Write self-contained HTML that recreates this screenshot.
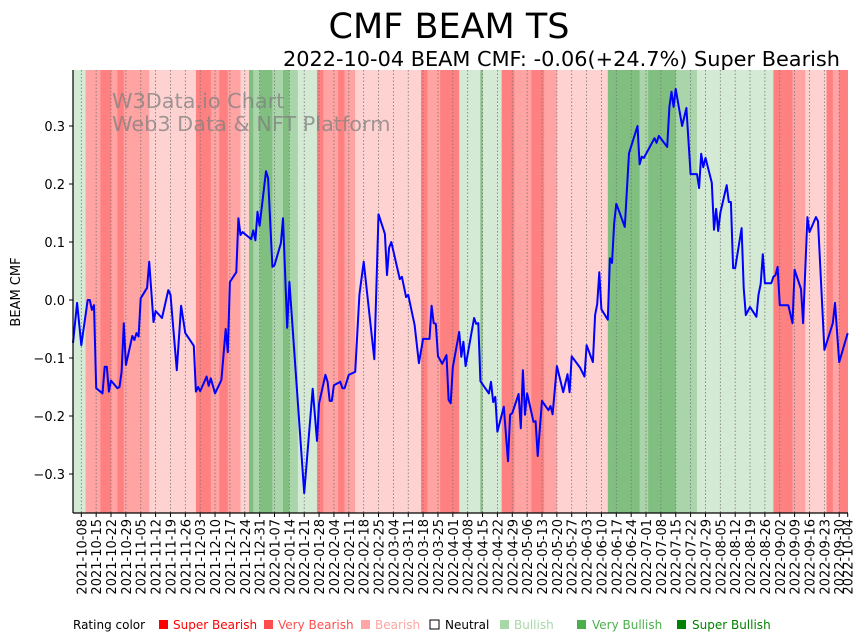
<!DOCTYPE html>
<html><head><meta charset="utf-8">
<style>
html,body{margin:0;padding:0;background:#fff;}
svg{display:block;font-family:"DejaVu Sans","Liberation Sans",sans-serif;}
</style></head>
<body>
<svg id="chart" width="867" height="641" viewBox="0 0 867 641" xmlns="http://www.w3.org/2000/svg">
<text x="449" y="38" font-size="35" text-anchor="middle" fill="#000">CMF BEAM TS</text>
<text x="840" y="66" font-size="20" text-anchor="end" fill="#000" textLength="557" lengthAdjust="spacingAndGlyphs">2022-10-04 BEAM CMF: -0.06(+24.7%) Super Bearish</text>
<g id="bands"></g>
<g id="grid"></g>
<g font-size="20.8" fill="#808080" fill-opacity="0.75">
<text x="112" y="108">W3Data.io Chart</text>
<text x="112" y="131">Web3 Data &amp; NFT Platform</text>
</g>
<g id="series"></g>
<g id="axes"></g>
<text transform="translate(20,292) rotate(-90)" font-size="13" text-anchor="middle">BEAM CMF</text>
<g font-size="12">
<text x="73" y="629" fill="#000">Rating color</text>
<rect x="159" y="620" width="9" height="9" fill="#ff0000"/><text x="173" y="629" fill="#ff0000">Super Bearish</text>
<rect x="264" y="620" width="9" height="9" fill="#ff4d4d"/><text x="278" y="629" fill="#ff4d4d">Very Bearish</text>
<rect x="361" y="620" width="9" height="9" fill="#ffa5a5"/><text x="375" y="629" fill="#ffa5a5">Bearish</text>
<rect x="430" y="620" width="9" height="9" fill="#fff" stroke="#000" stroke-width="1"/><text x="445" y="629" fill="#000">Neutral</text>
<rect x="500" y="620" width="9" height="9" fill="#a8d8a8"/><text x="514" y="629" fill="#a8d8a8">Bullish</text>
<rect x="577" y="620" width="9" height="9" fill="#4caf4c"/><text x="592" y="629" fill="#4caf4c">Very Bullish</text>
<rect x="677" y="620" width="9" height="9" fill="#008000"/><text x="692" y="629" fill="#008000">Super Bullish</text>
</g>
</svg>
<script>
// band data: start day, end day (days since 2021-10-08), rating level -3..3
const bandStart = [-4,2,9,14,17,20,32,54,61,65,69,75,79,81,84,90,95,98,102,111,114,121,124,129,160,163,169,178,188,189,198,204,212,218,224,248,263,267,274,280,290,326,335,341,351,354,357];
const bandEnd   = [2,9,14,17,20,32,54,61,65,69,75,79,81,84,90,95,98,102,111,114,121,124,129,160,163,169,178,188,189,198,204,212,218,224,248,263,267,274,280,290,326,335,341,351,354,357,361];
const bandLevel = [1,-2,-3,-2,-3,-2,-1,-3,-2,-3,-2,-1,3,2,3,2,3,2,1,-3,-2,-3,-2,-1,-3,-2,-3,1,3,1,-3,-2,-3,-2,-1,3,2,3,3,2,1,-3,-2,-1,-3,-2,-3];
// series
const days = [-4,-2,0,3,4,5,6,7,10,11,12,13,14,17,18,19,20,21,24,25,26,27,28,31,32,34,35,38,41,42,45,47,49,53,54,55,56,59,60,61,63,66,68,69,70,73,74,75,76,80,81,82,83,84,87,88,90,91,94,95,97,98,105,109,111,112,115,116,117,118,119,122,123,124,126,129,131,133,138,140,143,144,145,146,150,151,153,154,157,159,161,164,165,166,167,168,170,172,173,174,175,178,179,180,181,185,186,187,188,192,193,194,195,196,199,201,202,203,206,207,208,209,210,213,214,215,217,220,221,222,224,227,229,230,231,235,237,238,241,242,243,244,245,248,249,250,251,252,256,258,262,263,264,265,270,271,272,276,277,278,279,280,283,285,287,290,291,292,293,294,297,298,299,300,301,304,305,306,307,308,311,312,313,315,318,319,320,321,322,325,326,327,328,329,333,335,336,339,340,342,343,346,347,350,354,355,357,361];
const cmf = [-0.074,-0.005,-0.078,0.0,0.0,-0.017,-0.009,-0.152,-0.161,-0.115,-0.115,-0.158,-0.139,-0.152,-0.15,-0.124,-0.04,-0.112,-0.062,-0.069,-0.057,-0.063,0.003,0.021,0.066,-0.038,-0.019,-0.031,0.017,0.009,-0.121,-0.01,-0.057,-0.079,-0.158,-0.15,-0.157,-0.132,-0.148,-0.135,-0.161,-0.138,-0.05,-0.09,0.031,0.048,0.141,0.112,0.117,0.105,0.12,0.103,0.152,0.128,0.222,0.21,0.057,0.06,0.098,0.141,-0.048,0.031,-0.333,-0.153,-0.243,-0.178,-0.129,-0.141,-0.174,-0.174,-0.147,-0.141,-0.152,-0.152,-0.129,-0.124,0.009,0.066,-0.102,0.148,0.114,0.043,0.09,0.1,0.036,0.04,0.005,0.009,-0.043,-0.109,-0.067,-0.067,-0.01,-0.04,-0.041,-0.097,-0.11,-0.095,-0.172,-0.178,-0.116,-0.055,-0.098,-0.072,-0.114,-0.031,-0.041,-0.04,-0.14,-0.161,-0.141,-0.176,-0.167,-0.227,-0.184,-0.278,-0.198,-0.195,-0.162,-0.221,-0.121,-0.198,-0.161,-0.21,-0.209,-0.269,-0.174,-0.19,-0.183,-0.197,-0.114,-0.159,-0.128,-0.159,-0.097,-0.117,-0.132,-0.078,-0.107,-0.026,-0.007,0.048,-0.016,-0.034,0.072,0.064,0.133,0.166,0.126,0.253,0.3,0.234,0.247,0.245,0.279,0.271,0.283,0.264,0.333,0.359,0.333,0.364,0.3,0.331,0.217,0.217,0.193,0.252,0.229,0.245,0.202,0.121,0.157,0.119,0.15,0.198,0.169,0.169,0.055,0.055,0.124,0.021,-0.026,-0.012,-0.029,0.009,0.028,0.079,0.029,0.029,0.04,0.043,0.057,-0.009,-0.009,-0.04,0.052,0.019,-0.04,0.143,0.117,0.143,0.136,-0.086,-0.04,-0.005,-0.107,-0.057];
const yTicks = [-0.3,-0.2,-0.1,0.0,0.1,0.2,0.3];
const yTickLabels = ["−0.3","−0.2","−0.1","0.0","0.1","0.2","0.3"];
const lastLabel = "2022-10-04";
const lastDay = 361;

const L=73,R=848,T=70,B=513;
const X = d => 81.3 + d*2.123;
const Y = v => 300 - v*580;
const NS="http://www.w3.org/2000/svg";
const colors = {"-3":"#ff8080","-2":"#ffa3a3","-1":"#ffd2d2","0":"#ffffff","1":"#d4ead4","2":"#aad5aa","3":"#80bf80"};
function mk(tag, attrs, parent){const e=document.createElementNS(NS,tag);for(const k in attrs)e.setAttribute(k,attrs[k]);parent.appendChild(e);return e;}

const gb=document.getElementById('bands');
for(let i=0;i<bandStart.length;i++){
  const x1=Math.max(L,X(bandStart[i])), x2=Math.min(R,X(bandEnd[i]));
  const r=mk('rect',{x:x1,y:T,width:Math.max(0,x2-x1+0.3),height:B-T,fill:colors[bandLevel[i]]},gb);
  
  
}
const gg=document.getElementById('grid'), ga=document.getElementById('axes');
function fmt(dt){return dt.toISOString().slice(0,10);}
const base=Date.UTC(2021,9,8);
for(let w=0;w*7<=357;w++){
  const d=w*7, x=X(d);
  mk('line',{x1:x,y1:T,x2:x,y2:B,stroke:'#777','stroke-width':0.8,'stroke-dasharray':'1.5,2'},gg);
  mk('line',{x1:x,y1:B,x2:x,y2:B+4,stroke:'#000','stroke-width':1},ga);
  const t=mk('text',{transform:`translate(${x+5},${B+6}) rotate(-90)`,'font-size':13,'text-anchor':'end'},ga);
  t.textContent=fmt(new Date(base+d*86400000));
  
  
}
{
  const x=X(lastDay);
  mk('line',{x1:x,y1:B,x2:x,y2:B+4,stroke:'#000','stroke-width':1},ga);
  const t=mk('text',{transform:`translate(${x+5},${B+6}) rotate(-90)`,'font-size':13,'text-anchor':'end'},ga);
  t.textContent=lastLabel;
  
  
}
yTicks.forEach((v,i)=>{
  const y=Y(v);
  mk('line',{x1:L-4,y1:y,x2:L,y2:y,stroke:'#000','stroke-width':1},ga);
  const t=mk('text',{x:L-8,y:y+5,'font-size':13,'text-anchor':'end'},ga);
  t.textContent=yTickLabels[i];
  
  
});
mk('line',{x1:L,y1:T,x2:L,y2:B,stroke:'#000','stroke-width':1.2},ga);
mk('line',{x1:L,y1:B,x2:R,y2:B,stroke:'#000','stroke-width':1.2},ga);

const gs=document.getElementById('series');
const pts=days.map((d,i)=>`${Math.max(L,X(d)).toFixed(1)},${Y(cmf[i]).toFixed(1)}`).join(' ');
const pl=mk('polyline',{points:pts,fill:'none',stroke:'#0000ff','stroke-width':2,'stroke-linejoin':'round'},gs);


</script>
</body></html>
